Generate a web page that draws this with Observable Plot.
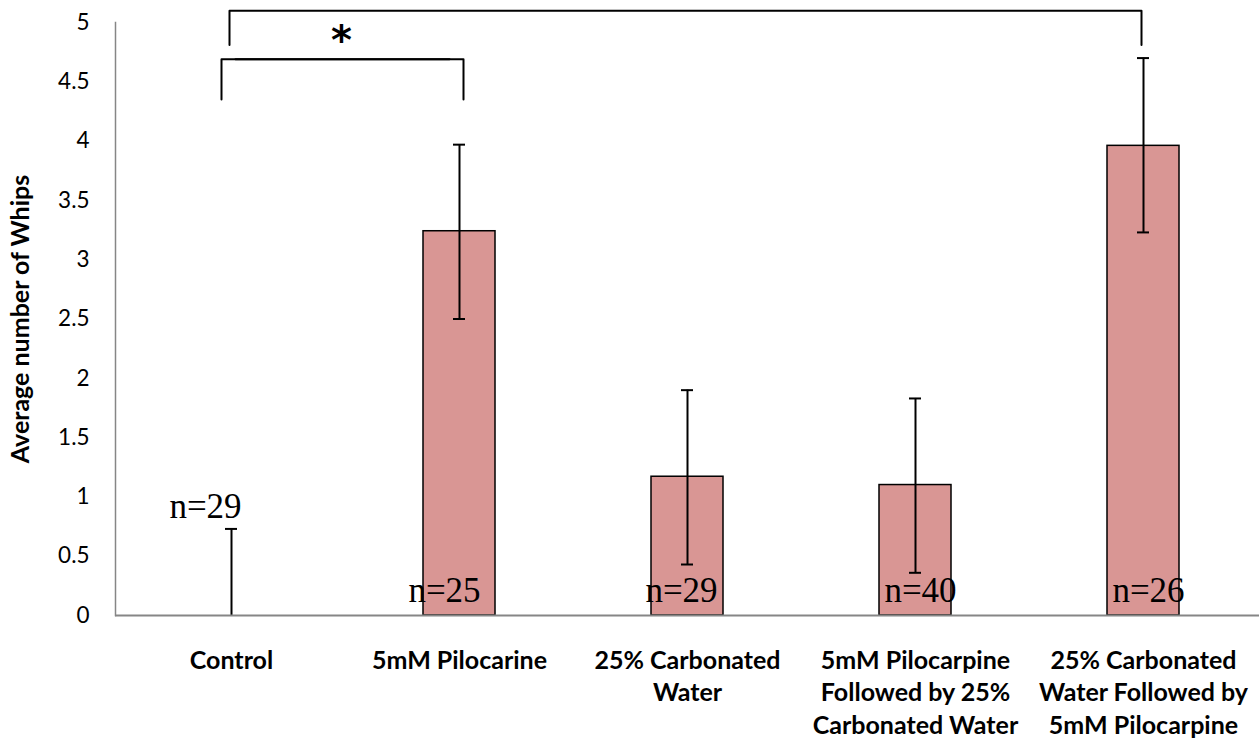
<!DOCTYPE html>
<html>
<head>
<meta charset="utf-8">
<script src="https://cdn.jsdelivr.net/npm/d3@7"></script>
<script src="https://cdn.jsdelivr.net/npm/@observablehq/plot@0.6"></script>
<style>
  html, body { margin: 0; padding: 0; background: #fff; }
  #chart svg { display: block; }
</style>
</head>
<body>
<div id="chart"></div>
<script>
const categories = ["Control", "5mM Pilocarine", "25% Carbonated Water", "5mM Pilocarpine Followed by 25% Carbonated Water", "25% Carbonated Water Followed by 5mM Pilocarpine"];
const tickLabels = ["Control", "5mM Pilocarine", "25% Carbonated\nWater", "5mM Pilocarpine\nFollowed by 25%\nCarbonated Water", "25% Carbonated\nWater Followed by\n5mM Pilocarpine"];
const means = [0, 3.24, 1.17, 1.10, 3.96];
const errLow = [0, 2.50, 0.43, 0.36, 3.23];
const errHigh = [0.73, 3.97, 1.90, 1.83, 4.70];
const nLabels = ["n=29", "n=25", "n=29", "n=40", "n=26"];
const yTicks = [0, 0.5, 1, 1.5, 2, 2.5, 3, 3.5, 4, 4.5, 5];

const data = categories.map((c, i) => ({cat: c, mean: means[i], lo: errLow[i], hi: errHigh[i], n: nLabels[i]}));
const labelOf = new Map(categories.map((c, i) => [c, tickLabels[i]]));

// significance brackets
const bracketOuter = [
  {x: categories[0], y: 4.81}, {x: categories[0], y: 5.10},
  {x: categories[4], y: 5.10}, {x: categories[4], y: 4.81}
];
const bracketInnerLeft = [
  {x: categories[0], y: 4.35}, {x: categories[0], y: 4.69}, {x: categories[1], y: 4.69}
];
const bracketInnerRight = [
  {x: categories[0], y: 4.69}, {x: categories[1], y: 4.69}, {x: categories[1], y: 4.35}
];

const sans = "Lato, 'Open Sans', sans-serif";
const serif = "'Liberation Serif', 'DejaVu Serif', serif";

// horizontal nudges for the n= labels (style only)
const nNudge = [-26, -15, -6, 5, 5];
const nY = d => (d.mean === 0 ? d.hi + 0.09 : 0.11);

const chart = Plot.plot({
  width: 1259,
  height: 740,
  marginTop: 22,
  marginBottom: 125,
  marginLeft: 115,
  marginRight: 0,
  style: {fontFamily: sans, background: "#fff"},
  x: {domain: categories, paddingInner: 0.685, paddingOuter: 0.3425, axis: null},
  y: {domain: [0, 5], axis: null},
  marks: [
    Plot.axisY({ticks: yTicks, tickFormat: d => String(d), tickSize: 0, tickPadding: 26, fontSize: 22.5, fill: "#000", label: null}),
    Plot.frame({anchor: "left", stroke: "#868686", strokeWidth: 1.5}),
    Plot.text(["Average number of Whips"], {frameAnchor: "left", rotate: -90, dx: -95, textAnchor: "middle", fontSize: 25, fontWeight: "bold", fill: "#000"}),
    Plot.axisX({tickFormat: d => labelOf.get(d), tickSize: 0, tickPadding: 30, fontSize: 25, fontWeight: "bold", lineHeight: 1.3, lineAnchor: "top", fill: "#000", label: null}),
    Plot.barY(data, {x: "cat", y: "mean", fill: "#d99694", stroke: "#000", strokeWidth: 1.5}),
    Plot.ruleX(data, {x: "cat", y1: "lo", y2: "hi", stroke: "#000", strokeWidth: 2}),
    Plot.tickY(data, {x: "cat", y: "hi", stroke: "#000", strokeWidth: 2, insetLeft: 30, insetRight: 30}),
    Plot.tickY(data.filter(d => d.lo > 0), {x: "cat", y: "lo", stroke: "#000", strokeWidth: 2, insetLeft: 30, insetRight: 30}),
    Plot.ruleY([0], {stroke: "#868686", strokeWidth: 2}),
    ...data.map((d, i) => Plot.text([d], {x: "cat", y: nY, text: "n", dx: nNudge[i], lineAnchor: "bottom", fontFamily: serif, fontSize: 35, fill: "#000"})),
    Plot.line(bracketOuter, {x: "x", y: "y", dx: -2, stroke: "#000", strokeWidth: 2, strokeLinejoin: "round"}),
    Plot.line(bracketInnerLeft, {x: "x", y: "y", dx: -10, stroke: "#000", strokeWidth: 2, strokeLinejoin: "round"}),
    Plot.line(bracketInnerRight, {x: "x", y: "y", dx: 4, stroke: "#000", strokeWidth: 2, strokeLinejoin: "round"}),
    Plot.text(["*"], {x: () => categories[1], y: () => 4.845, dx: -118, fontFamily: "'DejaVu Sans', sans-serif", fontWeight: "bold", fontSize: 40, fill: "#000", lineAnchor: "middle"})
  ]
});
document.getElementById("chart").appendChild(chart);
</script>
</body>
</html>
